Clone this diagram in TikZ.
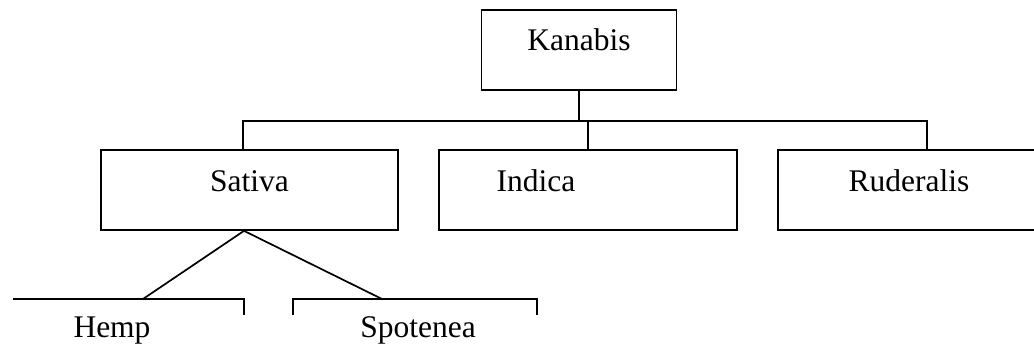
\documentclass[tikz,border=0pt]{standalone}
\usepackage{fontspec}
\setmainfont{Liberation Serif}
\usetikzlibrary{positioning}

\begin{document}
\begin{tikzpicture}[x=1pt, y=-1pt,
    taxon/.style={rectangle, draw=black, line width=1.7pt, minimum height=80pt,
                  inner sep=0pt, text height=2pt, text depth=0pt,
                  font=\fontsize{31.5}{36}\selectfont},
    leaf/.style={inner sep=0pt, anchor=base, font=\fontsize{31.5}{36}\selectfont},
    link/.style={line width=1.7pt}
]
    \useasboundingbox (0,0) rectangle (1034,345);
    \clip (0,0) rectangle (1034,345);

    % top level
    \node[taxon, minimum width=195pt] (kanabis) at (579,50) {Kanabis};

    % second level
    \node[taxon, minimum width=297pt] (sativa) at (249.5,190) {Sativa};
    \node[taxon, minimum width=298pt,
          label={[leaf, anchor=center, text height=2pt, text depth=0pt, xshift=-52pt]center:Indica}]
          (indica) at (588,190) {};
    \node[taxon, minimum width=262pt] (ruderalis) at (909,190) {Ruderalis};

    \coordinate (bar) at (580,121);
    \coordinate (rdrop) at ([xshift=18pt]ruderalis.north);
    \draw[link] (kanabis.south) -- (kanabis.south |- bar);
    \draw[link] ([xshift=-6.5pt]sativa.north) |- (rdrop |- bar) -- (rdrop);
    \draw[link] (indica.north) -- (indica.north |- bar);

    % third level (open boxes)
    \node[leaf] (hemp) at (112,337) {Hemp};
    \node[leaf] (spotenea) at (418,337) {Spotenea};

    \coordinate (hempL) at (13,299);
    \coordinate (hempR) at (244,299);
    \coordinate (spotL) at (293,299);
    \coordinate (spotR) at (537,299);
    \draw[link] (hempL) -- (hempR) -- ++(0,16);
    \draw[link] ([yshift=-16pt]spotL) -- (spotL) -- (spotR) -- ++(0,16);

    \draw[link] (143,299) -- ([xshift=-5.5pt]sativa.south) -- (382,299);
\end{tikzpicture}
\end{document}
